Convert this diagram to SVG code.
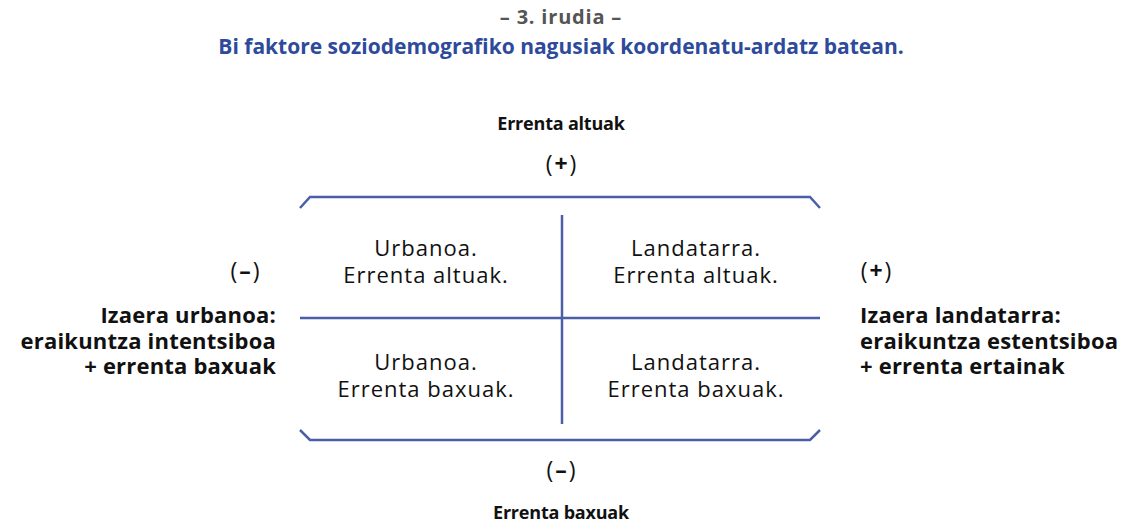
<svg xmlns="http://www.w3.org/2000/svg" width="1121" height="526" viewBox="0 0 1121 526">
<style>
text{font-family:"Open Sans","Noto Sans","Liberation Sans",sans-serif;fill:#111;}
.t1{font-size:20px;font-weight:700;fill:#555;letter-spacing:0.8px;}
.t2{font-size:21px;font-weight:700;fill:#2e4a9a;}
.b{font-size:18px;font-weight:700;letter-spacing:-0.2px;}
.s{font-size:22px;font-weight:700;letter-spacing:0.2px;}
.r{font-size:22px;font-weight:400;letter-spacing:1px;}
.p{font-size:23px;font-weight:400;letter-spacing:2px;}
.ax{stroke:#4a5fa8;stroke-width:2.5;fill:none;}
</style>
<rect width="1121" height="526" fill="#fff"/>
<g id="title">
<text class="t1" x="561" y="24" text-anchor="middle">– 3. irudia –</text>
<text class="t2" x="561" y="54" text-anchor="middle">Bi faktore soziodemografiko nagusiak koordenatu-ardatz batean.</text>
</g>
<g id="connectors">
<polyline class="ax" points="300,208 310,197 810,197 820,208"/>
<polyline class="ax" points="300,430 310,440 810,440 820,430"/>
<line class="ax" x1="300" y1="318" x2="820" y2="318"/>
<line class="ax" x1="562" y1="215" x2="562" y2="424"/>
</g>
<g id="top-label">
<text class="b" x="561" y="130" text-anchor="middle">Errenta altuak</text>
<text class="p" x="562" y="172" text-anchor="middle">(<tspan font-weight="700">+</tspan>)</text>
</g>
<g id="bottom-label">
<text class="p" x="562" y="478" text-anchor="middle">(<tspan font-weight="700">–</tspan>)</text>
<text class="b" x="561" y="519" text-anchor="middle">Errenta baxuak</text>
</g>
<g id="left-label">
<text class="p" x="246" y="279" text-anchor="middle">(<tspan font-weight="700">–</tspan>)</text>
<text class="s" text-anchor="end"><tspan x="276" y="323">Izaera urbanoa:</tspan><tspan x="276" y="348.5">eraikuntza intentsiboa</tspan><tspan x="276" y="374">+ errenta baxuak</tspan></text>
</g>
<g id="right-label">
<text class="p" x="877" y="279" text-anchor="middle">(<tspan font-weight="700">+</tspan>)</text>
<text class="s"><tspan x="860" y="323">Izaera landatarra:</tspan><tspan x="860" y="348.5">eraikuntza estentsiboa</tspan><tspan x="860" y="374">+ errenta ertainak</tspan></text>
</g>
<g id="q-ul"><text class="r" text-anchor="middle"><tspan x="426" y="256">Urbanoa.</tspan><tspan x="426" y="283">Errenta altuak.</tspan></text></g>
<g id="q-ur"><text class="r" text-anchor="middle"><tspan x="696" y="256">Landatarra.</tspan><tspan x="696" y="283">Errenta altuak.</tspan></text></g>
<g id="q-ll"><text class="r" text-anchor="middle"><tspan x="426" y="370">Urbanoa.</tspan><tspan x="426" y="397">Errenta baxuak.</tspan></text></g>
<g id="q-lr"><text class="r" text-anchor="middle"><tspan x="696" y="370">Landatarra.</tspan><tspan x="696" y="397">Errenta baxuak.</tspan></text></g>
</svg>
